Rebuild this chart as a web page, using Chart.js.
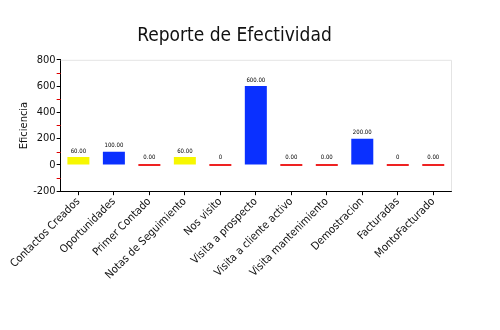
<!DOCTYPE html>
<html>
<head>
<meta charset="utf-8">
<script src="https://cdn.jsdelivr.net/npm/chart.js@4/dist/chart.umd.min.js"></script>
<style>
  html, body { margin: 0; padding: 0; background: #ffffff; }
  #wrap { width: 500px; height: 330px; }
</style>
</head>
<body>
<div id="wrap"><canvas id="c" width="500" height="330"></canvas></div>
<script>
// Categories and values of the efficiency report
const categories = [
  'Contactos Creados', 'Oportunidades', 'Primer Contado', 'Notas de Seguimiento',
  'Nos visito', 'Visita a prospecto', 'Visita a cliente activo', 'Visita mantenimiento',
  'Demostracion', 'Facturadas', 'MontoFacturado'
];
const values = [60, 100, 0, 60, 0, 600, 0, 0, 200, 0, 0];
const valueLabels = ['60.00', '100.00', '0.00', '60.00', '0', '600.00', '0.00', '0.00', '200.00', '0', '0.00'];
const barColors = ['#f7f700', '#0a30ff', '#ee2222', '#f7f700', '#ee2222', '#0a30ff', '#ee2222', '#ee2222', '#0a30ff', '#ee2222', '#ee2222'];
const yTicks = [-200, 0, 200, 400, 600, 800];
const yMinorTicks = [-100, 100, 300, 500, 700];

const FONT = "'DejaVu Sans Condensed', 'Liberation Sans Narrow', sans-serif";

// Light frame on top/right, red minor ticks on y axis, value labels above bars
const decorations = {
  id: 'decorations',
  afterDraw(chart) {
    const ctx = chart.ctx;
    const a = chart.chartArea;
    const y = chart.scales.y;
    ctx.save();
    ctx.strokeStyle = '#e4e4e4';
    ctx.lineWidth = 1;
    ctx.beginPath();
    ctx.moveTo(a.left, a.top + 0.5);
    ctx.lineTo(a.right + 0.5, a.top + 0.5);
    ctx.lineTo(a.right + 0.5, a.bottom);
    ctx.stroke();

    ctx.strokeStyle = '#dd0000';
    ctx.beginPath();
    yMinorTicks.forEach(v => {
      const py = Math.round(y.getPixelForValue(v)) + 0.5;
      ctx.moveTo(a.left - 4, py);
      ctx.lineTo(a.left, py);
    });
    ctx.stroke();

    ctx.fillStyle = '#000000';
    ctx.font = "6px " + FONT;
    ctx.textAlign = 'center';
    ctx.textBaseline = 'bottom';
    chart.getDatasetMeta(0).data.forEach((bar, i) => {
      const top = Math.min(bar.y, bar.base);
      ctx.fillText(valueLabels[i], bar.x, top - 3);
    });
    ctx.restore();
  }
};

new Chart(document.getElementById('c'), {
  type: 'bar',
  data: {
    labels: categories,
    datasets: [{
      data: values,
      backgroundColor: barColors,
      borderWidth: 0,
      minBarLength: 2,
      barPercentage: 0.62,
      categoryPercentage: 1.0
    }]
  },
  options: {
    responsive: false,
    animation: false,
    devicePixelRatio: 1,
    layout: { padding: { left: 18, right: 49, top: 10, bottom: 48 } },
    plugins: {
      legend: { display: false },
      tooltip: { enabled: false },
      title: {
        display: true,
        text: 'Reporte de Efectividad',
        color: '#111111',
        font: { family: FONT, size: 19, weight: 'normal' },
        padding: { top: 15, bottom: 12 }
      }
    },
    scales: {
      x: {
        grid: { display: true, drawOnChartArea: false, offset: false, color: '#000000', tickLength: 4 },
        border: { display: true, color: '#000000', width: 1 },
        ticks: {
          color: '#111111',
          maxRotation: 45, minRotation: 45,
          padding: 0,
          font: { family: FONT, size: 11 }
        }
      },
      y: {
        min: -200, max: 800,
        afterBuildTicks(scale) { scale.ticks = yTicks.map(v => ({ value: v })); },
        grid: { display: true, drawOnChartArea: false, color: '#000000', tickLength: 4 },
        border: { display: true, color: '#000000', width: 1 },
        ticks: {
          color: '#111111',
          padding: 1,
          font: { family: FONT, size: 11 }
        },
        title: {
          display: true,
          text: 'Eficiencia',
          color: '#111111',
          padding: { top: 0, bottom: 1 },
          font: { family: FONT, size: 11 }
        }
      }
    }
  },
  plugins: [decorations]
});
</script>
</body>
</html>
